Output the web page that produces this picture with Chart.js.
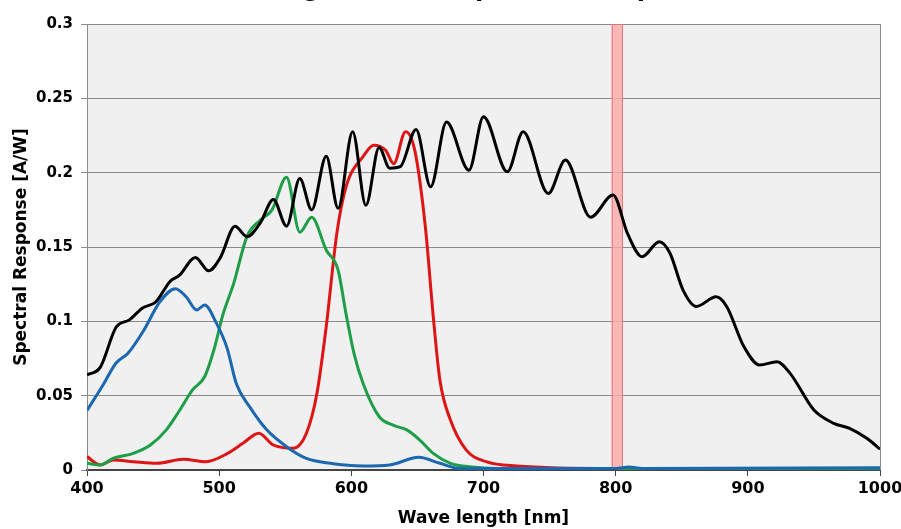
<!DOCTYPE html>
<html>
<head>
<meta charset="utf-8">
<script src="https://cdn.jsdelivr.net/npm/chart.js@4"></script>
<style>
  html, body { margin: 0; padding: 0; background: #fff; }
  #wrap { width: 901px; height: 529px; }
</style>
</head>
<body>
<div id="wrap"><canvas id="canvas" width="901" height="529"></canvas></div>
<script>
// chart values
const titleText = 'Image Sensor Spectral Response';
const xTitle = 'Wave length [nm]';
const yTitle = 'Spectral Response [A/W]';

const blackWl = [400,410,422,432,442,452,463,470,482,492,501,512,521,531,541,551,561,570,581,590,601,611,621,629,637,649,660,672,689,700,718,730,749,762,781,798,809,820,833,841,851,861,876,884,897,909,922,932,950,965,977,990,1000];
const blackVal = [0.064,0.069,0.096,0.101,0.109,0.113,0.127,0.131,0.143,0.134,0.143,0.164,0.157,0.166,0.182,0.164,0.196,0.175,0.211,0.176,0.2275,0.178,0.217,0.203,0.204,0.229,0.1905,0.234,0.2017,0.2376,0.2006,0.2275,0.186,0.2085,0.170,0.185,0.159,0.1435,0.1535,0.146,0.121,0.110,0.1165,0.110,0.083,0.0706,0.0728,0.065,0.0403,0.0314,0.028,0.0213,0.014];

const blueWl = [400,412,422,431,443,455,467,475,483,489,498,506,513,523,536,551,566,584,609,629,651,667,682,700,800,810,820,1000];
const blueVal = [0.040,0.057,0.072,0.0785,0.094,0.113,0.122,0.1165,0.1076,0.111,0.0986,0.082,0.058,0.0426,0.027,0.0157,0.0078,0.0045,0.0027,0.0034,0.0085,0.0045,0.001,0.001,0.001,0.002,0.001,0.0015];

const greenWl = [400,410,420,435,448,460,470,480,489,496,503,511,521,531,540,551,561,570,581,590,596,602,609,621,632,642,652,662,675,691,710,1000];
const greenVal = [0.0045,0.0034,0.0079,0.0112,0.0168,0.027,0.040,0.054,0.0627,0.0807,0.105,0.1255,0.157,0.168,0.175,0.197,0.160,0.170,0.148,0.1345,0.105,0.0785,0.058,0.036,0.030,0.027,0.020,0.0112,0.0045,0.002,0.001,0.001];

const redWl = [400,410,420,435,453,473,490,506,518,530,541,556,566,574,581,589,596,609,617,626,632,641,648,656,662,667,675,687,702,725,800,1000];
const redVal = [0.009,0.0034,0.0067,0.0056,0.0045,0.0072,0.0056,0.011,0.018,0.0247,0.0168,0.0146,0.0247,0.0516,0.0964,0.159,0.1905,0.211,0.2185,0.215,0.206,0.2275,0.215,0.1636,0.103,0.0605,0.0336,0.0134,0.0056,0.0027,0.001,0.001];

// highlighted band (nm)
const bandStart = 797;
const bandEnd = 805.5;

function pts(xs, ys) {
  return xs.map(function (x, i) { return { x: x, y: ys[i] }; });
}

function line(label, xs, ys, color) {
  return {
    label: label,
    data: pts(xs, ys),
    borderColor: color,
    backgroundColor: color,
    borderWidth: 3,
    pointRadius: 0,
    cubicInterpolationMode: 'monotone',
    fill: false
  };
}

const plotBg = {
  id: 'plotBg',
  beforeDraw: function (chart) {
    const a = chart.chartArea, ctx = chart.ctx;
    ctx.save();
    ctx.fillStyle = '#f0f0f0';
    ctx.fillRect(a.left, a.top, a.right - a.left, a.bottom - a.top);
    ctx.restore();
  },
  beforeDatasetsDraw: function (chart) {
    const a = chart.chartArea, ctx = chart.ctx, xs = chart.scales.x;
    const x0 = xs.getPixelForValue(bandStart), x1 = xs.getPixelForValue(bandEnd);
    ctx.save();
    ctx.fillStyle = 'rgba(255,170,170,0.8)';
    ctx.fillRect(x0, a.top, x1 - x0, a.bottom - a.top);
    ctx.strokeStyle = '#e07575';
    ctx.lineWidth = 1;
    ctx.strokeRect(x0 + 0.5, a.top + 0.5, x1 - x0 - 1, a.bottom - a.top - 1);
    // right frame line
    ctx.strokeStyle = '#8a8a8a';
    ctx.beginPath();
    ctx.moveTo(Math.round(a.right) + 0.5, a.top);
    ctx.lineTo(Math.round(a.right) + 0.5, a.bottom);
    ctx.stroke();
    ctx.restore();
  },
  afterDraw: function (chart) {
    const ctx = chart.ctx, a = chart.chartArea;
    ctx.save();
    ctx.font = 'bold 30px "Liberation Sans", Arial, sans-serif';
    ctx.fillStyle = '#000';
    ctx.textAlign = 'center';
    ctx.textBaseline = 'alphabetic';
    ctx.fillText(titleText, (a.left + a.right) / 2 + 4, -5);
    ctx.restore();
  }
};

const canvas = document.getElementById('canvas');
const chart = new Chart(canvas, {
  type: 'line',
  data: {
    datasets: [
      line('Panchromatic', blackWl, blackVal, '#000000'),
      line('Blue', blueWl, blueVal, '#1c68b0'),
      line('Green', greenWl, greenVal, '#1f9e48'),
      line('Red', redWl, redVal, '#dd1515')
    ]
  },
  options: {
    responsive: false,
    animation: false,
    layout: { padding: { top: 24, right: 21, left: 0, bottom: 0 } },
    plugins: { legend: { display: false }, tooltip: { enabled: false } },
    scales: {
      x: {
        type: 'linear',
        min: 400,
        max: 1000,
        afterFit: function (s) { s.height = 59; s.paddingRight = 0; s.paddingLeft = 0; },
        ticks: {
          stepSize: 100,
          color: '#000',
          padding: 3,
          font: { family: '"DejaVu Sans"', size: 16, weight: 'bold' },
          callback: function (v) { return String(v); }
        },
        grid: { drawOnChartArea: false, drawTicks: true, tickLength: 6, color: '#444' },
        border: { display: true, color: '#444', width: 2 },
        title: {
          display: true,
          text: xTitle,
          color: '#000',
          padding: { top: 1, bottom: 0 },
          font: { family: '"DejaVu Sans"', size: 17, weight: 'bold' }
        }
      },
      y: {
        min: 0,
        max: 0.3,
        afterFit: function (s) { s.width = 87; },
        ticks: {
          stepSize: 0.05,
          color: '#000',
          padding: 8,
          font: { family: '"DejaVu Sans"', size: 15, weight: 'bold' },
          callback: function (v) { return String(Number(v.toFixed(2))); }
        },
        grid: { color: '#8a8a8a', lineWidth: 1, tickLength: 6 },
        border: { display: true, color: '#8a8a8a' },
        title: {
          display: true,
          text: yTitle,
          color: '#000',
          padding: { top: 11, bottom: 2 },
          font: { family: '"DejaVu Sans"', size: 17, weight: 'bold' }
        }
      }
    }
  },
  plugins: [plotBg]
});
</script>
</body>
</html>
